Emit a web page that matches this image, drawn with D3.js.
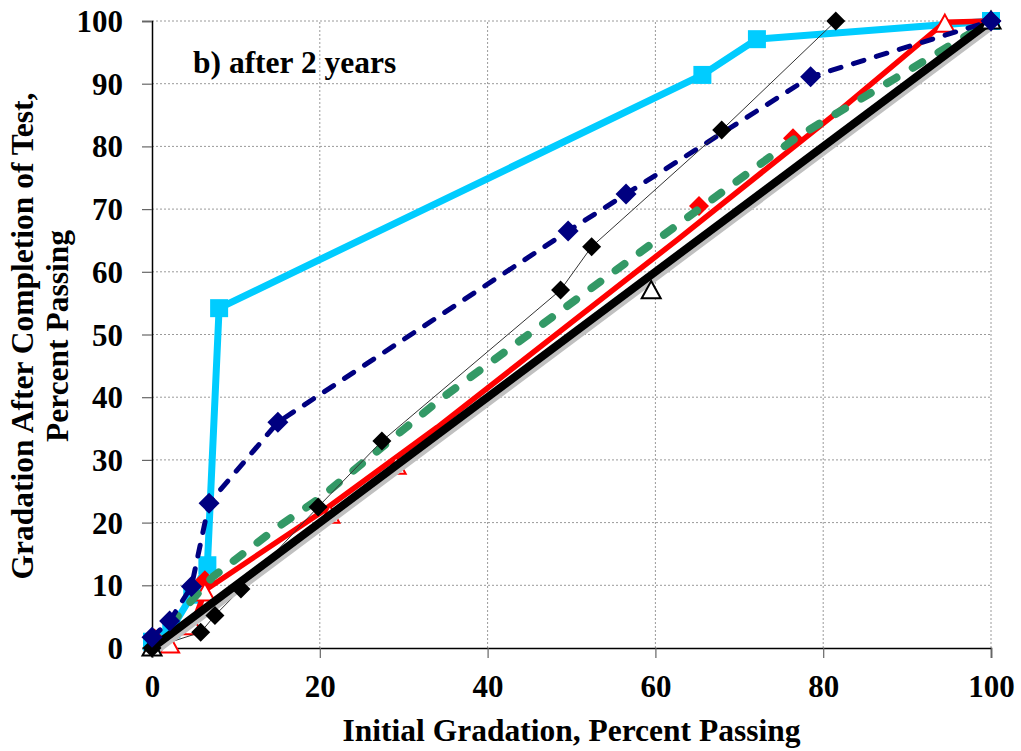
<!DOCTYPE html>
<html>
<head>
<meta charset="utf-8">
<script src="https://cdn.jsdelivr.net/npm/d3@7/dist/d3.min.js"></script>
<style>
  html, body { margin: 0; padding: 0; background: #fff; }
  svg { display: block; }
  text { font-family: "Liberation Serif", "Times New Roman", serif; font-weight: bold; fill: #000; }
</style>
</head>
<body>
<svg id="chart" width="1021" height="751"></svg>
<script>
// Axis ticks
const xTicks = [0, 20, 40, 60, 80, 100];
const yTicks = [0, 10, 20, 30, 40, 50, 60, 70, 80, 90, 100];

// Gradation after 2 years: initial % passing (x) vs. % passing after test (y)
const cyanX = [0, 2.3, 4.8, 6.6, 8.0, 65.6, 72.1, 100];
const cyanY = [1.0, 3.0, 8.5, 13.2, 54.2, 91.4, 97.1, 100];

const navyX = [0, 2.1, 4.7, 6.8, 15.0, 49.6, 56.5, 78.5, 100];
const navyY = [1.7, 4.3, 9.8, 23.1, 36.0, 66.5, 72.4, 91.1, 100];

const blackThinX = [0, 5.8, 7.5, 10.6, 19.8, 27.4, 48.7, 52.4, 67.9, 81.5];
const blackThinY = [0, 2.5, 5.2, 9.4, 22.5, 33.0, 57.1, 64.0, 82.6, 100];

const redLineX = [0, 2.1, 4.9, 6.4, 20.0, 34.0, 62.6, 82.0, 94.5, 100];
const redLineY = [0.5, 1.2, 4.0, 9.3, 21.5, 35.2, 65.1, 85.8, 99.8, 100];

const redTriX = [2.1, 4.9, 6.3, 21.2, 29.1, 94.5];
const redTriY = [0.5, 3.4, 8.8, 21.2, 29.0, 99.5];

const redDiaX = [0.3, 6.3, 65.2, 76.4, 100];
const redDiaY = [1.5, 10.8, 70.5, 81.3, 100];

const greenX = [0, 2.0, 7.2, 15.0, 20.0, 34.3, 59.7, 76.9, 100];
const greenY = [0, 3.5, 11.3, 19.3, 23.9, 39.6, 64.6, 81.5, 100];

const lineOfEqualityX = [0, 100];
const lineOfEqualityY = [0, 100];

const openTriX = [0, 59.5, 100];
const openTriY = [0, 57.0, 100];

const zip = (xs, ys) => xs.map((v, i) => [v, ys[i]]);

const svg = d3.select("#chart");
const x = d3.scaleLinear().domain([0, 100]).range([152, 991]);
const y = d3.scaleLinear().domain([0, 100]).range([648, 21]);

// Dotted grid
const grid = svg.append("g");
grid.selectAll("line.gy").data(yTicks.filter(t => t > 0)).join("line")
  .attr("x1", x(0)).attr("x2", x(100))
  .attr("y1", d => y(d)).attr("y2", d => y(d))
  .attr("stroke", "#9a9a9a").attr("stroke-width", 1).attr("stroke-dasharray", "2,2");
grid.selectAll("line.gx").data(xTicks.filter(t => t > 0)).join("line")
  .attr("x1", d => x(d)).attr("x2", d => x(d))
  .attr("y1", y(0)).attr("y2", y(100))
  .attr("stroke", "#9a9a9a").attr("stroke-width", 1).attr("stroke-dasharray", "2,2");

// Axes
const yAxis = svg.append("g").attr("transform", `translate(${x(0)},0)`)
  .call(d3.axisLeft(y).tickValues(yTicks).tickSize(10).tickPadding(19).tickFormat(d3.format("d")));
const xAxis = svg.append("g").attr("transform", `translate(0,${y(0)})`)
  .call(d3.axisBottom(x).tickValues(xTicks).tickSize(10).tickPadding(17).tickFormat(d3.format("d")));
[xAxis, yAxis].forEach(a => {
  a.select(".domain").attr("stroke", "#000").attr("stroke-width", 1.5);
  a.selectAll(".tick line").attr("stroke", "#666").attr("stroke-width", 1.2);
  a.selectAll(".tick text").style("font-size", "31px").style("font-family", "'Liberation Serif', serif").style("font-weight", "bold");
});
xAxis.selectAll(".tick text").attr("dy", "0.71em");
yAxis.selectAll(".tick text").attr("dy", "0.34em");

const line = d3.line().x(d => x(d[0])).y(d => y(d[1]));
const plot = svg.append("g");

function drawLine(pts, color, width, dash) {
  const p = plot.append("path").datum(pts).attr("d", line)
    .attr("fill", "none").attr("stroke", color).attr("stroke-width", width)
    .attr("stroke-linejoin", "round");
  if (dash) p.attr("stroke-dasharray", dash).attr("stroke-linecap", "round");
  return p;
}

function drawMarkers(pts, shape, size, fill, stroke, sw) {
  const h = size / 2;
  let path;
  if (shape === "square") path = `M${-h},${-h}H${h}V${h}H${-h}Z`;
  else if (shape === "diamond") path = `M0,${-h}L${h},0L0,${h}L${-h},0Z`;
  else path = `M0,${-h}L${h},${h * 0.8}L${-h},${h * 0.8}Z`;
  plot.append("g").selectAll("path").data(pts).join("path")
    .attr("transform", d => `translate(${x(d[0])},${y(d[1])})`)
    .attr("d", path).attr("fill", fill).attr("stroke", stroke).attr("stroke-width", sw);
}

// Series, back to front
drawLine(zip(cyanX, cyanY), "#00CCFF", 7);
drawMarkers(zip(cyanX, cyanY), "square", 18, "#00CCFF", "none", 0);

drawLine(zip(redLineX, redLineY), "#FF0000", 5.5);
drawMarkers(zip(redDiaX, redDiaY), "diamond", 20, "#FF0000", "none", 0);
drawMarkers(zip(redTriX, redTriY), "triangle", 19, "#fff", "#FF0000", 2);

drawLine(zip(greenX, greenY), "#339966", 8, "11,19");

drawLine(zip(navyX, navyY), "#000080", 5, "11,13");

drawLine(zip(blackThinX, blackThinY), "#333", 1);

// Line of equality with its soft shadow
drawLine(zip(lineOfEqualityX, lineOfEqualityY), "#c0c0c0", 8).attr("transform", "translate(3,3)");
drawLine(zip(lineOfEqualityX, lineOfEqualityY), "#000", 8);

drawMarkers(zip(openTriX, openTriY), "triangle", 19, "#fff", "#000", 2);
drawMarkers(zip(blackThinX, blackThinY), "diamond", 19, "#000", "none", 0);
drawMarkers(zip(navyX, navyY), "diamond", 21, "#000080", "none", 0);

// Titles
svg.append("text").attr("x", 193).attr("y", 73).style("font-size", "31.5px").text("b) after 2 years");

svg.append("text").attr("x", x(50)).attr("y", 741).attr("text-anchor", "middle")
  .style("font-size", "31.5px").text("Initial Gradation, Percent Passing");

const yTitle = svg.append("text").attr("transform", `translate(0,336) rotate(-90)`)
  .attr("text-anchor", "middle").style("font-size", "31.5px");
yTitle.append("tspan").attr("x", 0).attr("y", 33).text("Gradation After Completion of Test,");
yTitle.append("tspan").attr("x", 0).attr("y", 68).text("Percent Passing");
</script>
</body>
</html>
